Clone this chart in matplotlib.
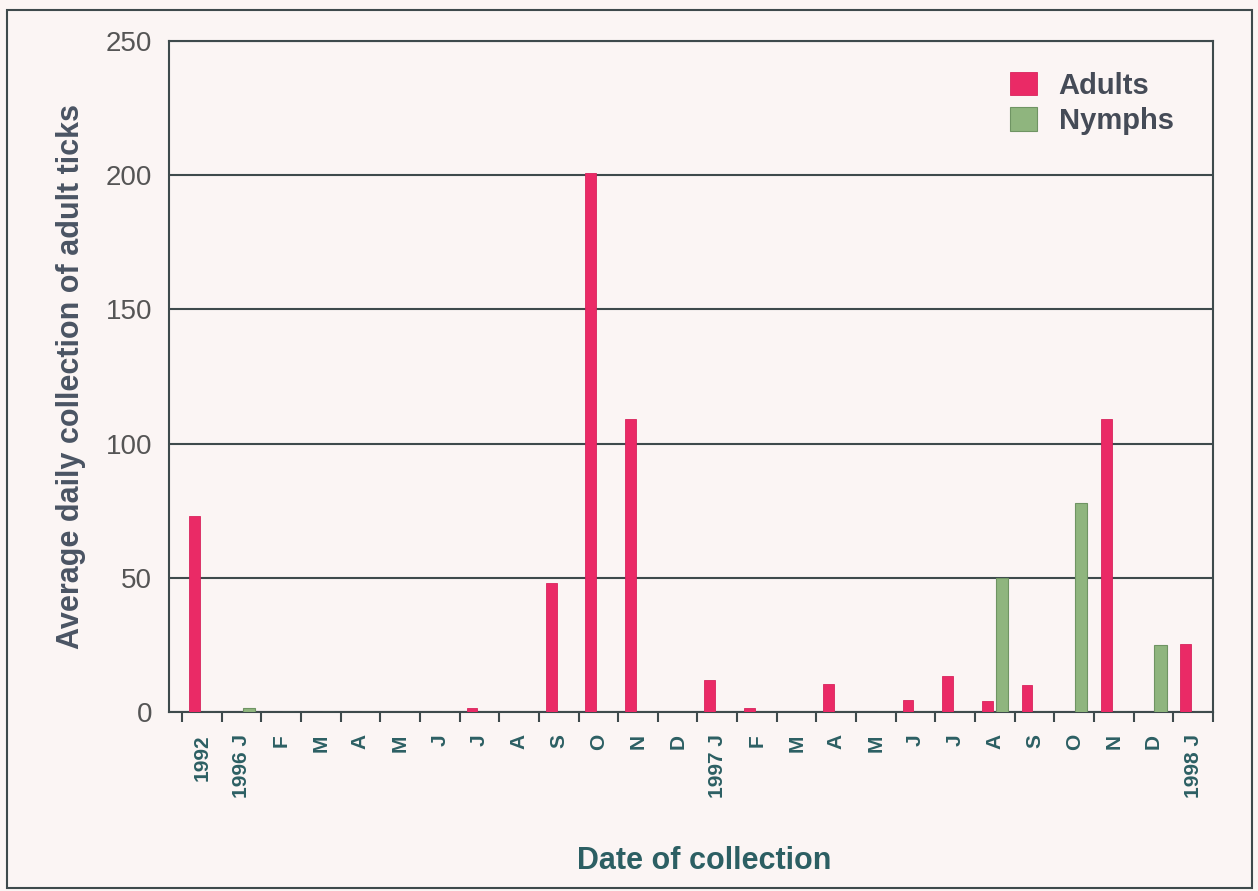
import numpy as np
import matplotlib
matplotlib.use("Agg")
import matplotlib.pyplot as plt
from matplotlib.patches import Rectangle

# month labels, 1992 then Jan 1996 - Jan 1998
months = ["1992", "1996 J", "F", "M", "A", "M", "J", "J", "A", "S", "O", "N", "D",
          "1997 J", "F", "M", "A", "M", "J", "J", "A", "S", "O", "N", "D", "1998 J"]

adults = [73, 0, 0, 0, 0, 0, 0, 1.5, 0, 48, 201, 109, 0,
          12, 1.5, 0, 10.5, 0, 4.5, 13.4, 4, 10.2, 0, 109, 0, 25.5]

nymphs = [0, 1.5, 0, 0, 0, 0, 0, 0, 0, 0, 0, 0, 0,
          0, 0, 0, 0, 0, 0, 0, 50, 0, 78, 0, 25, 0]

BG = "#FBF5F4"
DARK = "#3E4A4C"
TEAL = "#2C5F63"

plt.rcParams["font.family"] = ["Liberation Sans", "DejaVu Sans"]

fig = plt.figure(figsize=(12.58, 8.91), dpi=100, facecolor=BG)
ax = fig.add_axes([0.1343, 0.2009, 0.8299, 0.7531], facecolor=BG)

x = np.arange(len(months))

ax.bar(x - 0.19, adults, width=0.27, color="#EA2A66",
       edgecolor="#D8245C", linewidth=0.6, label="Adults", zorder=3)
ax.bar(x + 0.18, nymphs, width=0.31, color="#8FB57E",
       edgecolor="#6F9463", linewidth=0.8, label="Nymphs", zorder=3)

ax.set_ylim(0, 250)
ax.set_xlim(-0.83, 25.5)
ax.set_yticks([0, 50, 100, 150, 200, 250])
ax.yaxis.grid(True, color=DARK, linewidth=1.5, zorder=1)
ax.set_axisbelow(True)

for s in ax.spines.values():
    s.set_color(DARK)
    s.set_linewidth(1.5)

ax.tick_params(axis="y", length=0, pad=12, labelsize=20, labelcolor="#555555")

ax.set_xticks(x)
ax.set_xticklabels(months, rotation=90, fontsize=15, fontweight="bold", color=TEAL)
ax.set_xticks(np.arange(-0.5, 25.6, 1), minor=True)
ax.tick_params(axis="x", which="major", length=0, pad=16)
ax.tick_params(axis="x", which="minor", length=7, width=1.5, color=DARK, direction="out")

ax.set_ylabel("Average daily collection of adult ticks", fontsize=22,
              fontweight="bold", color="#4A5463", labelpad=14)
ax.set_xlabel("Date of collection", fontsize=22, fontweight="bold",
              color=TEAL)
ax.xaxis.set_label_coords(0.513, -0.2)

ax.legend(loc="upper left", bbox_to_anchor=(0.806, 0.954), frameon=False,
          prop={"weight": "bold", "size": 21},
          labelcolor="#454B57", handlelength=0.9, handleheight=0.85,
          handletextpad=0.75, labelspacing=0.25, borderpad=0, borderaxespad=0)

# outer frame of the scanned figure
fig.patches.append(Rectangle((7 / 1258, 3 / 891), 1245 / 1258, 878 / 891,
                             transform=fig.transFigure, fill=False,
                             edgecolor=DARK, linewidth=1.5))

fig.savefig("out.png", dpi=100, facecolor=BG)
